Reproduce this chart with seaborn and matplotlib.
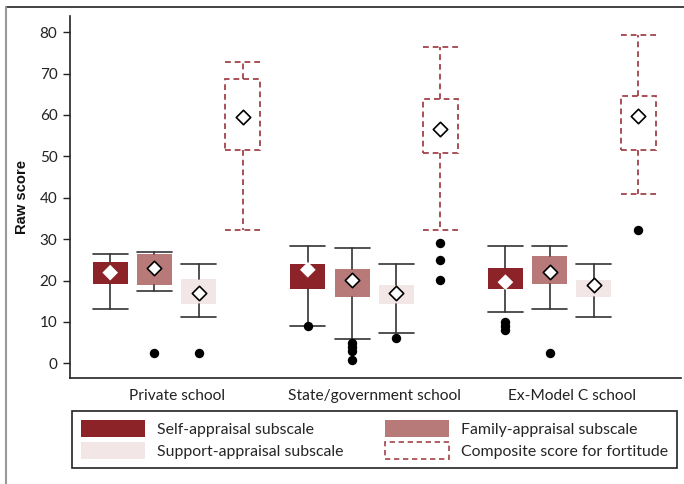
import numpy as np
import pandas as pd
import seaborn as sns
import matplotlib.pyplot as plt
from matplotlib.patches import Patch
from matplotlib.lines import Line2D

schools = ["Private school", "State/government school", "Ex-Model C school"]
measures = ["Self-appraisal subscale", "Family-appraisal subscale",
            "Support-appraisal subscale", "Composite score for fortitude"]

# box statistics per measure, one value per school
self_lo = [13.2, 9.1, 12.3]
self_q1 = [19.2, 17.9, 17.9]
self_q3 = [24.4, 24.1, 23.1]
self_hi = [26.3, 28.3, 28.3]
self_mean = [21.9, 22.6, 19.6]

family_lo = [17.4, 5.9, 13.1]
family_q1 = [18.9, 16.0, 19.1]
family_q3 = [26.4, 22.9, 26.0]
family_hi = [27.0, 27.9, 28.3]
family_mean = [23.0, 20.2, 22.0]

support_lo = [11.3, 7.3, 11.1]
support_q1 = [14.3, 14.4, 16.0]
support_q3 = [20.3, 18.8, 20.2]
support_hi = [24.1, 24.1, 24.1]
support_mean = [17.1, 17.0, 19.0]

composite_lo = [32.1, 32.1, 40.8]
composite_q1 = [51.5, 50.9, 51.5]
composite_q3 = [68.8, 63.9, 64.6]
composite_hi = [72.7, 76.3, 79.4]
composite_mean = [59.6, 56.6, 59.7]

# outliers per measure, one list per school
self_out = [[], [8.9], [10.0, 9.0, 8.0]]
family_out = [[2.5], [5.0, 4.0, 3.0, 0.7], [2.5]]
support_out = [[2.5], [6.1], []]
composite_out = [[], [29.1, 24.9, 20.2], [32.1]]

yticks = [0, 10, 20, 30, 40, 50, 60, 70, 80]

stats = {
    measures[0]: (self_lo, self_q1, self_q3, self_hi, self_mean, self_out),
    measures[1]: (family_lo, family_q1, family_q3, family_hi, family_mean, family_out),
    measures[2]: (support_lo, support_q1, support_q3, support_hi, support_mean, support_out),
    measures[3]: (composite_lo, composite_q1, composite_q3, composite_hi, composite_mean, composite_out),
}

colors = ["#8b2328", "#b77a79", "#f2e6e6", "white"]
dash_color = "#a1434a"
line_color = "#333333"
dash = (0, (3.2, 2.2))

sns.set_theme(style="ticks")
plt.rcParams['font.family'] = ['Lato', 'DejaVu Sans']

fig = plt.figure(figsize=(6.84, 4.84), dpi=100)
ax = fig.add_axes([70 / 684, 1 - 378 / 484, 611 / 684, 362 / 484])

offsets = np.array([-1.5, -0.5, 0.5, 1.5]) * 0.2237
box_w = 0.177

mean_rows = []
out_rows = []
for k, m in enumerate(measures):
    lo, q1, q3, hi, mean, out = stats[m]
    positions = np.arange(len(schools)) + offsets[k]
    box_stats = [dict(whislo=lo[i], q1=q1[i], med=mean[i], q3=q3[i], whishi=hi[i], fliers=[])
                 for i in range(len(schools))]
    if k == 3:
        lp = dict(color=dash_color, linewidth=1.3, linestyle=dash)
        bp = dict(facecolor="white", edgecolor=dash_color, linewidth=1.3, linestyle=dash)
    else:
        lp = dict(color=line_color, linewidth=1.2)
        bp = dict(facecolor=colors[k], edgecolor="none", linewidth=0)
    ax.bxp(box_stats, positions=positions, widths=box_w, capwidths=box_w,
           patch_artist=True, showfliers=False, manage_ticks=False,
           boxprops=bp, whiskerprops=lp, capprops=lp,
           medianprops=dict(linewidth=0))
    for i in range(len(schools)):
        mean_rows.append(dict(x=positions[i], y=mean[i], measure=m))
        for v in out[i]:
            out_rows.append(dict(x=positions[i], y=v, measure=m))

means = pd.DataFrame(mean_rows)
outliers = pd.DataFrame(out_rows)

sns.scatterplot(data=outliers, x="x", y="y", color="black", s=46,
                linewidth=0, ax=ax, zorder=4, legend=False)
sns.scatterplot(data=means[means.measure != measures[0]], x="x", y="y",
                marker="D", color="white", edgecolor="black", s=54,
                linewidth=1.2, ax=ax, zorder=5, legend=False)
sns.scatterplot(data=means[means.measure == measures[0]], x="x", y="y",
                marker="D", color="white", edgecolor="none", s=64,
                linewidth=0, ax=ax, zorder=5, legend=False)

ax.set_xlim(-0.539, 2.553)
ax.set_ylim(-3.55, 83.9)
ax.set_yticks(yticks)
ax.set_xticks(range(len(schools)))
ax.set_xticklabels(schools)
ax.set_xlabel("")
ax.set_ylabel("Raw score", fontsize=10.6, fontweight="bold",
              family=["Liberation Sans", "DejaVu Sans"], color="#111111")
ax.yaxis.set_label_coords(-0.067, 0.5)
ax.tick_params(axis="y", length=5, width=1, color="#222222", pad=4,
               labelsize=11, labelcolor="#222222")
ax.tick_params(axis="x", length=0, pad=8, labelsize=11.2, labelcolor="#222222")
for side in ["top", "right"]:
    ax.spines[side].set_visible(False)
for side in ["left", "bottom"]:
    ax.spines[side].set_color("#222222")
    ax.spines[side].set_linewidth(1.2)

handles = [
    Patch(facecolor=colors[0], edgecolor="none", label=measures[0]),
    Patch(facecolor=colors[2], edgecolor="none", label=measures[2]),
    Patch(facecolor=colors[1], edgecolor="none", label=measures[1]),
    Patch(facecolor="white", edgecolor=dash_color, linestyle=dash, linewidth=1.2, label=measures[3]),
]
leg = fig.legend(handles=handles, ncol=2, loc="lower left",
                 bbox_to_anchor=(72 / 684, 1 - 468 / 484, 605 / 684, 60 / 484),
                 mode="expand", borderaxespad=0, fontsize=11.4,
                 handlelength=4.05, handleheight=1.3, handletextpad=0.75,
                 labelspacing=0.3, borderpad=0.55, fancybox=False,
                 edgecolor="#222222", framealpha=1)
leg.get_frame().set_linewidth(1.2)

# outer frame of the figure
fig.add_artist(Line2D([6 / 684, 1], [1 - 7 / 484, 1 - 7 / 484], color="#222222", linewidth=1.2))
fig.add_artist(Line2D([6 / 684, 6 / 684], [0, 1 - 7 / 484], color="#999999", linewidth=1.5))

fig.savefig("out.png", dpi=100)
